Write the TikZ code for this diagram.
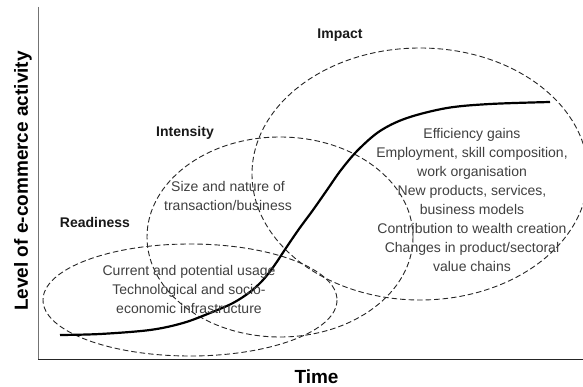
\documentclass[tikz,border=0pt]{standalone}
\usepackage{fontspec}
\setmainfont{Liberation Sans}
\begin{document}
\begin{tikzpicture}[x=1pt,y=-1pt]
\tikzset{
  ell/.style={draw=black!85, line width=0.9pt, dash pattern=on 5.5pt off 3pt},
  scurve/.style={draw=black, line width=2.2pt},
  yaxis/.style={draw=black!55, line width=1pt},
  xaxis/.style={draw=black!85, line width=1pt},
  body/.style={font=\fontsize{14}{19}\selectfont, text=black!75, align=center, inner sep=0pt},
  head/.style={font=\fontsize{14}{17}\selectfont\bfseries, text=black!90, inner sep=0pt},
  axlab/.style={font=\fontsize{19}{22}\selectfont\bfseries, text=black, inner sep=0pt},
}
\useasboundingbox (0,0) rectangle (583,387);
\fill[white] (0,0) rectangle (583,387);

% axes
\coordinate (otop) at (38,7);
\coordinate (orig) at (38,359);
\coordinate (xend) at (583,359);
\draw[yaxis] (otop) -- (orig);
\draw[xaxis] (orig) -- (xend);

% ellipses
\draw[ell] (190,300) ellipse [x radius=147, y radius=56];
\draw[ell] (280,237) ellipse [x radius=133, y radius=100];
\draw[ell] (420,174) ellipse [x radius=168, y radius=126];

% s-curve
\draw[scurve] plot[smooth, tension=0.55] coordinates {(60,335) (100,334) (150,330) (183,323) (210,313) (233,303) (250,292) (263,280) (274,266) (286,248) (299,229) (313,210) (327,190) (341,170) (358,150) (380,131) (407,118) (447,108) (490,104) (550,102)};

% labels
\node[head] (impact) at (340,35) {Impact};
\node[head] (intensity) at (185,133) {Intensity};
\node[head] (readiness) at (95,222) {Readiness};

\node[body] (impbody) at (472,200) {Efficiency gains\\Employment, skill composition,\\work organisation\\New products, services,\\business models\\Contribution to wealth creation\\Changes in product/sectoral\\value chains};
\node[body] (intbody) at (228,195.5) {Size and nature of\\transaction/business};
\node[body] (readbody) at (189,289) {Current and potential usage\\Technological and socio-\\economic infrastructure};

\node[axlab] (time) at (316.5,377) {Time};
\node[axlab, rotate=90] (ylab) at (23,181) {Level of e-commerce activity};
\end{tikzpicture}
\end{document}
